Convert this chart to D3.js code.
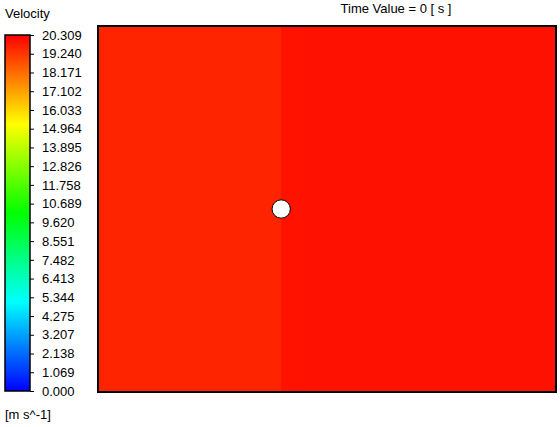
<!DOCTYPE html>
<html>
<head>
<meta charset="utf-8">
<script src="https://cdn.jsdelivr.net/npm/d3@7"></script>
<style>
  body { margin: 0; background: #fff; }
  svg { display: block; font-family: "Liberation Sans", Arial, sans-serif; }
</style>
</head>
<body>
<svg id="chart" width="560" height="427"></svg>
<script>
// colour legend
const tickLabels = ['0.000','1.069','2.138','3.207','4.275','5.344','6.413','7.482','8.551','9.620',
  '10.689','11.758','12.826','13.895','14.964','16.033','17.102','18.171','19.240','20.309'];
const vMin = 0, vMax = 20.309;

// velocity field, columns across the domain (x in fraction of width)
const colEdges = [0, 0.4, 0.45, 1.0];
const colVelocity = [19.6, 19.93, 19.97];

// cylinder (fraction of domain)
const cylX = 0.4, cylY = 0.5, cylR = 0.02;

const svg = d3.select('#chart');

// rainbow like the solver's default map
const stops = ['#0000ff', '#00ffff', '#00ff00', '#ffff00', '#ff0000'];
const color = d3.scaleLinear()
    .domain(d3.range(stops.length).map(i => vMin + (vMax - vMin) * i / (stops.length - 1)))
    .range(stops)
    .interpolate(d3.interpolateRgb);

// ---- legend ----
const cb = { x: 5, y: 35, w: 25, h: 356 };
const yLeg = d3.scaleLinear().domain([vMin, vMax]).range([cb.y + cb.h, cb.y]);

const defs = svg.append('defs');
const grad = defs.append('linearGradient').attr('id', 'cbGrad')
    .attr('x1', 0).attr('y1', 1).attr('x2', 0).attr('y2', 0);
d3.range(0, 1.0001, 0.05).forEach(t => {
    grad.append('stop').attr('offset', t).attr('stop-color', color(vMin + t * (vMax - vMin)));
});

svg.append('rect')
    .attr('x', cb.x).attr('y', cb.y).attr('width', cb.w).attr('height', cb.h)
    .attr('fill', 'url(#cbGrad)').attr('stroke', '#000').attr('stroke-width', 1.5);

const legAxis = d3.axisRight(yLeg)
    .tickValues(tickLabels.map(Number))
    .tickFormat((d, i) => tickLabels[i])
    .tickSize(4).tickSizeOuter(0).tickPadding(8);

const gLeg = svg.append('g').attr('transform', `translate(${cb.x + cb.w},0)`).call(legAxis);
gLeg.select('.domain').remove();
gLeg.selectAll('line').attr('stroke', '#000');
gLeg.selectAll('text').attr('font-size', 13).attr('fill', '#000')
    .attr('font-family', '"Liberation Sans", Arial, sans-serif');

svg.append('text').attr('x', 5).attr('y', 18).attr('font-size', 13).text('Velocity');
svg.append('text').attr('x', 5).attr('y', 419).attr('font-size', 13).text('[m s^-1]');
svg.append('text').attr('x', 396).attr('y', 13).attr('font-size', 13)
    .attr('text-anchor', 'middle').text('Time Value = 0 [ s ]');

// ---- field ----
const plot = { x: 98, y: 26, w: 458, h: 366 };
const xs = d3.scaleLinear().domain([0, 1]).range([plot.x, plot.x + plot.w]);
const ys = d3.scaleLinear().domain([0, 1]).range([plot.y, plot.y + plot.h]);

svg.append('g').selectAll('rect')
    .data(colVelocity)
    .join('rect')
    .attr('x', (d, i) => xs(colEdges[i]))
    .attr('y', ys(0))
    .attr('width', (d, i) => xs(colEdges[i + 1]) - xs(colEdges[i]) + 0.5)
    .attr('height', ys(1) - ys(0))
    .attr('fill', d => color(d))
    .attr('shape-rendering', 'crispEdges');

svg.append('circle')
    .attr('cx', xs(cylX)).attr('cy', ys(cylY))
    .attr('r', xs(cylR) - xs(0))
    .attr('fill', '#fff').attr('stroke', '#000').attr('stroke-width', 1);

svg.append('rect')
    .attr('x', plot.x).attr('y', plot.y).attr('width', plot.w).attr('height', plot.h)
    .attr('fill', 'none').attr('stroke', '#000').attr('stroke-width', 2);
</script>
</body>
</html>
